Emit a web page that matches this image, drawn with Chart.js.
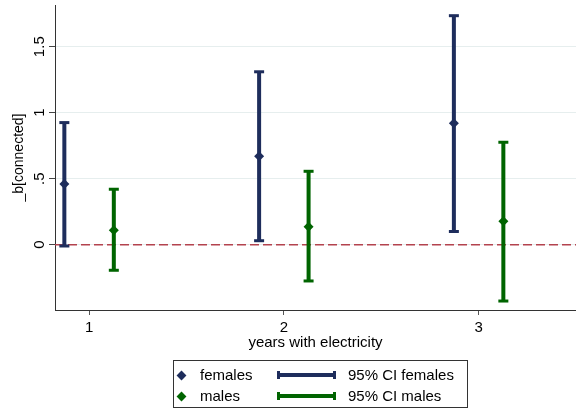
<!DOCTYPE html>
<html>
<head>
<meta charset="utf-8">
<script src="https://cdn.jsdelivr.net/npm/chart.js@4/dist/chart.umd.min.js"></script>
<style>
  body { margin: 0; background: #fff; }
  #wrap { position: relative; width: 576px; height: 410px; }
  #legend {
    position: absolute; left: 173px; top: 360px; width: 295px; height: 48px;
    border: 1px solid #333; box-sizing: border-box;
    font: 15px "Liberation Sans", Arial, sans-serif; color: #000;
  }
  #legend .item { position: absolute; line-height: 18px; }
  #legend .dia { position: absolute; width: 7px; height: 7px; transform: rotate(45deg); }
  #legend .ci { position: absolute; height: 4px; width: 59px; }
  #legend .ci::before, #legend .ci::after {
    content: ""; position: absolute; top: -2px; width: 3px; height: 8px; background: inherit;
  }
  #legend .ci::before { left: 0; }
  #legend .ci::after { right: 0; }
</style>
</head>
<body>
<div id="wrap">
  <canvas id="coefChart" width="576" height="410"></canvas>
  <div id="legend"></div>
</div>
<script>
// x categories and tick labels
const years = [1, 2, 3];
const yTickValues = [0, 0.5, 1, 1.5];
const yTickLabels = ['0', '.5', '1', '1.5'];

// point estimates and 95% CIs
const femalesB  = [0.46, 0.67, 0.92];
const femalesLo = [-0.01, 0.03, 0.10];
const femalesHi = [0.925, 1.31, 1.735];
const malesB    = [0.11, 0.136, 0.177];
const malesLo   = [-0.194, -0.275, -0.427];
const malesHi   = [0.42, 0.556, 0.776];

const navy = '#1e2d5c';
const green = '#006400';
const shift = 0.127;   // coefplot offset of the two groups

const pts = (b, off) => years.map((x, i) => ({ x: x + off, y: b[i] }));
// one line dataset per series, segments split by null points
const ciSegs = (lo, hi, off) => years.flatMap((x, i) => [
  { x: x + off, y: lo[i] }, { x: x + off, y: hi[i] }, { x: x + off + 0.01, y: null }
]);

const zeroLine = {
  id: 'zeroLine',
  beforeDatasetsDraw(chart) {
    const { ctx, chartArea } = chart;
    const y0 = chart.scales.y.getPixelForValue(0);
    ctx.save();
    ctx.strokeStyle = '#b3434e';
    ctx.lineWidth = 1.5;
    ctx.setLineDash([9, 4]);
    ctx.beginPath();
    ctx.moveTo(chartArea.left, y0);
    ctx.lineTo(chartArea.right, y0);
    ctx.stroke();
    ctx.restore();
  }
};

// stata prints the y labels turned on their side
const yLabels = {
  id: 'yLabels',
  afterDraw(chart) {
    const ctx = chart.ctx, ys = chart.scales.y;
    ctx.save();
    ctx.font = '15px "Liberation Sans", Arial, sans-serif';
    ctx.fillStyle = '#000';
    ctx.textAlign = 'center';
    ctx.textBaseline = 'middle';
    yTickValues.forEach((v, i) => {
      ctx.save();
      ctx.translate(chart.chartArea.left - 15, ys.getPixelForValue(v));
      ctx.rotate(-Math.PI / 2);
      ctx.fillText(yTickLabels[i], 0, 0);
      ctx.restore();
    });
    ctx.restore();
  }
};

Chart.defaults.font.family = '"Liberation Sans", Arial, sans-serif';
Chart.defaults.color = '#000';

new Chart(document.getElementById('coefChart'), {
  type: 'line',
  data: {
    datasets: [
      { label: 'females', data: pts(femalesB, -shift), showLine: false,
        pointStyle: 'rectRot', pointRadius: 5, backgroundColor: navy, borderColor: navy, pointBorderWidth: 0 },
      { label: 'males', data: pts(malesB, shift), showLine: false,
        pointStyle: 'rectRot', pointRadius: 5, backgroundColor: green, borderColor: green, pointBorderWidth: 0 },
      { label: '95% CI females', data: ciSegs(femalesLo, femalesHi, -shift), spanGaps: false,
        borderColor: navy, borderWidth: 4, pointStyle: 'line', pointRadius: 5,
        pointBorderColor: navy, pointBorderWidth: 3 },
      { label: '95% CI males', data: ciSegs(malesLo, malesHi, shift), spanGaps: false,
        borderColor: green, borderWidth: 4, pointStyle: 'line', pointRadius: 5,
        pointBorderColor: green, pointBorderWidth: 3 }
    ]
  },
  options: {
    responsive: false,
    animation: false,
    events: [],
    layout: { autoPadding: false, padding: { top: 5, right: 0, bottom: 50, left: 0 } },
    plugins: { legend: { display: false }, tooltip: { enabled: false } },
    scales: {
      x: {
        type: 'linear', min: 0.825, max: 3.5,
        afterBuildTicks: s => { s.ticks = years.map(v => ({ value: v })); },
        afterFit: s => { s.height = 50; },
        ticks: { font: { size: 15 }, padding: 4, callback: v => String(v) },
        grid: { drawOnChartArea: false, tickLength: 5, tickColor: '#555' },
        border: { color: '#333', width: 1 },
        title: { display: true, text: 'years with electricity', font: { size: 15 },
          padding: { top: 0, bottom: 8 } }
      },
      y: {
        type: 'linear', min: -0.495, max: 1.816,
        afterBuildTicks: s => { s.ticks = yTickValues.map(v => ({ value: v })); },
        afterFit: s => { s.width = 55; },
        ticks: { display: false },
        grid: { color: '#e6eeee', lineWidth: 1, tickLength: 6, tickColor: '#444' },
        border: { color: '#333', width: 1 },
        title: { display: true, text: '_b[connected]', font: { size: 14 },
          padding: { top: 11, bottom: 0 } }
      }
    }
  },
  plugins: [zeroLine, yLabels]
});

// legend box, 2 x 2 as in stata
const legendItems = [
  { kind: 'dia', color: navy, text: 'females', x: 7, tx: 26, y: 15 },
  { kind: 'ci', color: navy, text: '95% CI females', x: 103, tx: 174, y: 15 },
  { kind: 'dia', color: green, text: 'males', x: 7, tx: 26, y: 36 },
  { kind: 'ci', color: green, text: '95% CI males', x: 103, tx: 174, y: 36 }
];
const legendBox = document.getElementById('legend');
legendItems.forEach(it => {
  const sym = document.createElement('div');
  sym.className = it.kind;
  sym.style.background = it.color;
  if (it.kind === 'dia') {
    sym.style.left = (it.x - 3.5) + 'px';
    sym.style.top = (it.y - 4.5) + 'px';
  } else {
    sym.style.left = it.x + 'px';
    sym.style.top = (it.y - 3) + 'px';
  }
  legendBox.appendChild(sym);
  const txt = document.createElement('div');
  txt.className = 'item';
  txt.textContent = it.text;
  txt.style.left = it.tx + 'px';
  txt.style.top = (it.y - 10) + 'px';
  legendBox.appendChild(txt);
});
</script>
</body>
</html>
